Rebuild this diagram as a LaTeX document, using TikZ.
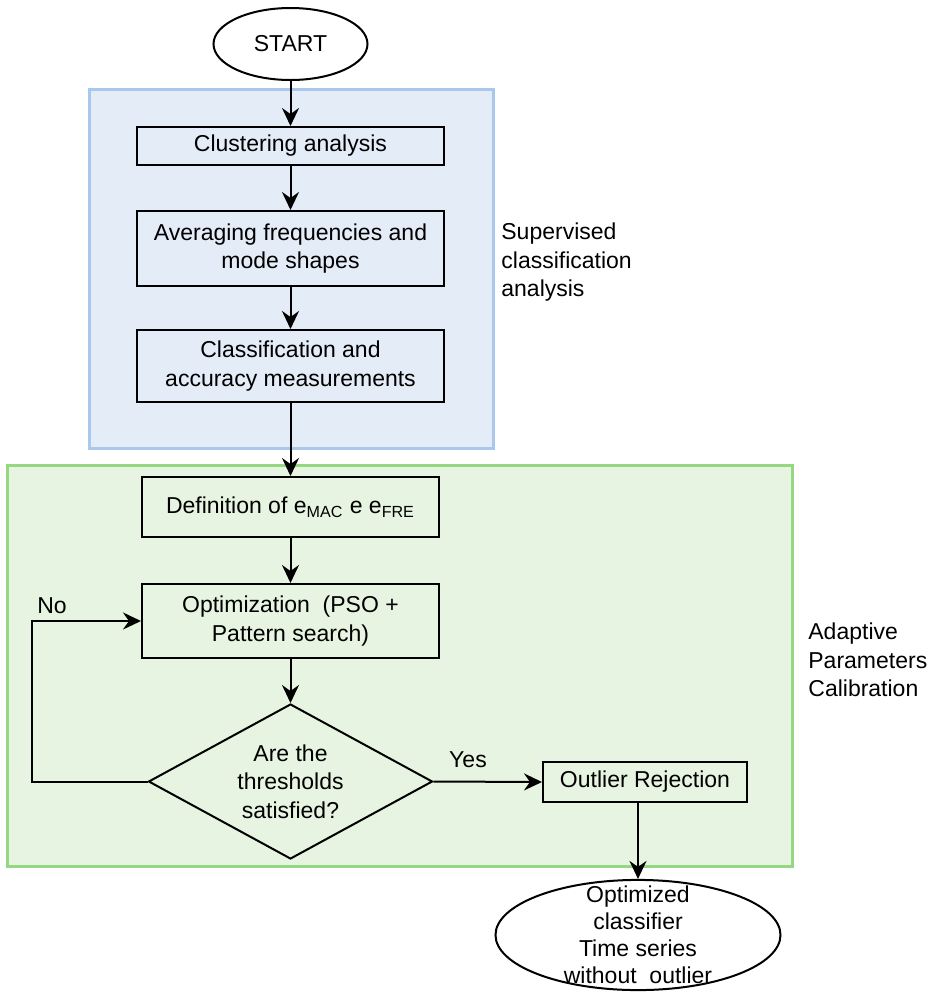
\documentclass[tikz,border=0pt]{standalone}
\usepackage{fontspec}
\setmainfont{Liberation Sans}
\usetikzlibrary{shapes.geometric,arrows.meta}
\definecolor{supfill}{HTML}{E4ECF7}
\definecolor{supline}{HTML}{A9C9EC}
\definecolor{adpfill}{HTML}{E7F4E1}
\definecolor{adpline}{HTML}{95D882}

\begin{document}
\begin{tikzpicture}[x=0.5pt,y=-0.5pt,
  every node/.style={font=\fontsize{11.5}{14.25}\selectfont, inner sep=0pt},
  proc/.style={draw, line width=1pt, align=center, minimum width=153.5pt},
  term/.style={draw, ellipse, line width=1pt, align=center},
  flow/.style={-{Stealth[length=9pt,width=8.5pt,inset=3pt]}, line width=1pt},
  lbl/.style={anchor=north west, align=left}]
\useasboundingbox (0,0) rectangle (933,992);
% regions
\filldraw[fill=supfill, draw=supline, line width=1.5pt] (89,89) rectangle (493,448);
\filldraw[fill=adpfill, draw=adpline, line width=1.5pt] (7,465) rectangle (792,866);
\node[lbl] (suplbl) at (501,222.5) {Supervised\\classification\\analysis};
\node[lbl] (adplbl) at (808,622.5) {Adaptive\\Parameters\\Calibration};
% steps
\node[term, minimum width=77pt, minimum height=36pt] (start) at (290.5,44) {START};
\node[proc, minimum height=19pt] (clust) at (290.5,146) {Clustering analysis};
\node[proc, minimum height=37.5pt] (avg) at (290.5,248.5) {Averaging frequencies and\\mode shapes};
\node[proc, minimum height=36pt] (cls) at (290.5,366) {Classification and\\accuracy measurements};
\node[proc, minimum width=148.5pt, minimum height=30pt] (def) at (290.5,507) {Definition of e\textsubscript{MAC} e e\textsubscript{FRE}};
\node[proc, minimum width=148.5pt, minimum height=37pt] (opt) at (290.5,621) {Optimization\ \ (PSO +\\Pattern search)};
\node[draw, diamond, aspect=1.86, line width=1pt, minimum width=142pt, minimum height=77.5pt, align=center] (dec) at (290.5,781.5) {Are the\\thresholds\\satisfied?};
\node[proc, minimum width=102pt, minimum height=20pt] (outl) at (645,782) {Outlier Rejection};
\node[term, minimum width=142.5pt, inner ysep=-5pt, font=\fontsize{11.5}{13.5}\selectfont] (fin) at (638,935) {Optimized\\classifier\\Time series\\without\ \ outlier};
\node (yes) at (468,760) {Yes};
\node (no) at (52,606) {No};
% connectors
\draw[flow] (start) -- (clust);
\draw[flow] (clust) -- (avg);
\draw[flow] (avg) -- (cls);
\draw[flow] (cls) -- (def);
\draw[flow] (def) -- (opt);
\draw[flow] (opt) -- (dec);
\draw[flow] (dec.east) -- (outl.west);
\draw[flow] (dec.west) -- ++(-116,0) |- (opt.west);
\draw[flow] (outl.south -| fin.north) -- (fin.north);
\end{tikzpicture}
\end{document}
